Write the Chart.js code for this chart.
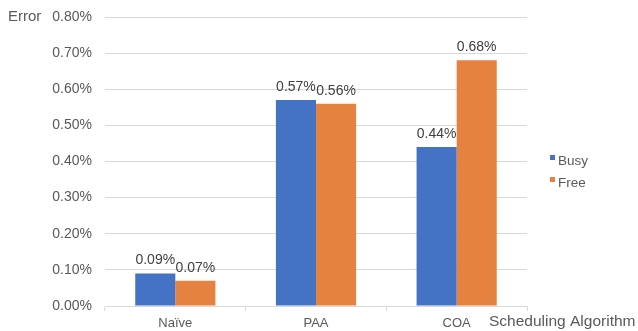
<!DOCTYPE html>
<html>
<head>
<meta charset="utf-8">
<script src="https://cdn.jsdelivr.net/npm/chart.js@4/dist/chart.umd.min.js"></script>
<style>
  html, body { margin: 0; padding: 0; background: #ffffff; }
  #wrap { width: 638px; height: 331px; position: relative; }
</style>
</head>
<body>
<div id="wrap"><canvas id="chart" width="638" height="331"></canvas></div>
<script>
const categories = ['Naïve', 'PAA', 'COA'];
const busyValues = [0.09, 0.57, 0.44];
const freeValues = [0.07, 0.56, 0.68];
const seriesNames = ['Busy', 'Free'];
const yTicks = [0, 0.1, 0.2, 0.3, 0.4, 0.5, 0.6, 0.7, 0.8];
const yTitle = 'Error';
const xTitle = 'Scheduling Algorithm';

const BLUE = '#4472C4';
const ORANGE = '#E6823F';
const FONT = '"Liberation Sans", Arial, sans-serif';

// Value labels above each bar, axis titles and the side legend
const annotate = {
  id: 'annotate',
  afterDatasetsDraw(chart) {
    const ctx = chart.ctx;
    ctx.save();
    ctx.font = '14px ' + FONT;
    ctx.fillStyle = '#404040';
    ctx.textAlign = 'center';
    ctx.textBaseline = 'bottom';
    chart.data.datasets.forEach((ds, i) => {
      chart.getDatasetMeta(i).data.forEach((bar, j) => {
        ctx.fillText(ds.data[j].toFixed(2) + '%', bar.x, bar.y - 6);
      });
    });

    ctx.fillStyle = '#595959';
    ctx.textBaseline = 'middle';
    ctx.textAlign = 'left';
    ctx.font = '15px ' + FONT;
    ctx.fillText(yTitle, 8, 17);
    // x-axis title sized to span from the last category to the right edge
    ctx.font = '16px ' + FONT;
    const w = ctx.measureText(xTitle).width;
    const size = Math.min(17, 16 * 146 / w);
    ctx.font = size.toFixed(1) + 'px ' + FONT;
    ctx.fillText(xTitle, 489, 322);

    // legend
    ctx.font = '13.5px ' + FONT;
    chart.data.datasets.forEach((ds, i) => {
      const y = 161 + i * 22;
      ctx.fillStyle = ds.backgroundColor;
      ctx.fillRect(550, y - 6, 5, 5);
      ctx.fillStyle = '#595959';
      ctx.fillText(ds.label, 558, y);
    });
    ctx.restore();
  }
};

new Chart(document.getElementById('chart'), {
  type: 'bar',
  data: {
    labels: categories,
    datasets: [
      { label: seriesNames[0], data: busyValues, backgroundColor: BLUE },
      { label: seriesNames[1], data: freeValues, backgroundColor: ORANGE }
    ]
  },
  options: {
    responsive: false,
    animation: false,
    devicePixelRatio: 1,
    layout: { padding: { top: 17, right: 111, bottom: 0, left: 0 } },
    datasets: { bar: { categoryPercentage: 0.57, barPercentage: 1.0 } },
    plugins: { legend: { display: false }, tooltip: { enabled: false } },
    scales: {
      x: {
        grid: { display: true, drawOnChartArea: false, offset: true, tickLength: 5, color: '#d9d9d9' },
        border: { color: '#d9d9d9' },
        ticks: { color: '#595959', font: { size: 13, family: FONT }, padding: 5 },
        afterFit(scale) { scale.height = 25; scale.paddingLeft = 0; scale.paddingRight = 0; }
      },
      y: {
        min: 0,
        max: 0.8,
        afterBuildTicks(scale) { scale.ticks = yTicks.map(v => ({ value: v })); },
        grid: { color: '#d9d9d9', drawTicks: false },
        border: { display: false },
        ticks: {
          color: '#595959',
          font: { size: 14, family: FONT },
          padding: 13,
          callback: v => v.toFixed(2) + '%'
        },
        afterFit(scale) { scale.width = 105; scale.paddingTop = 0; scale.paddingBottom = 0; }
      }
    }
  },
  plugins: [annotate]
});
</script>
</body>
</html>
